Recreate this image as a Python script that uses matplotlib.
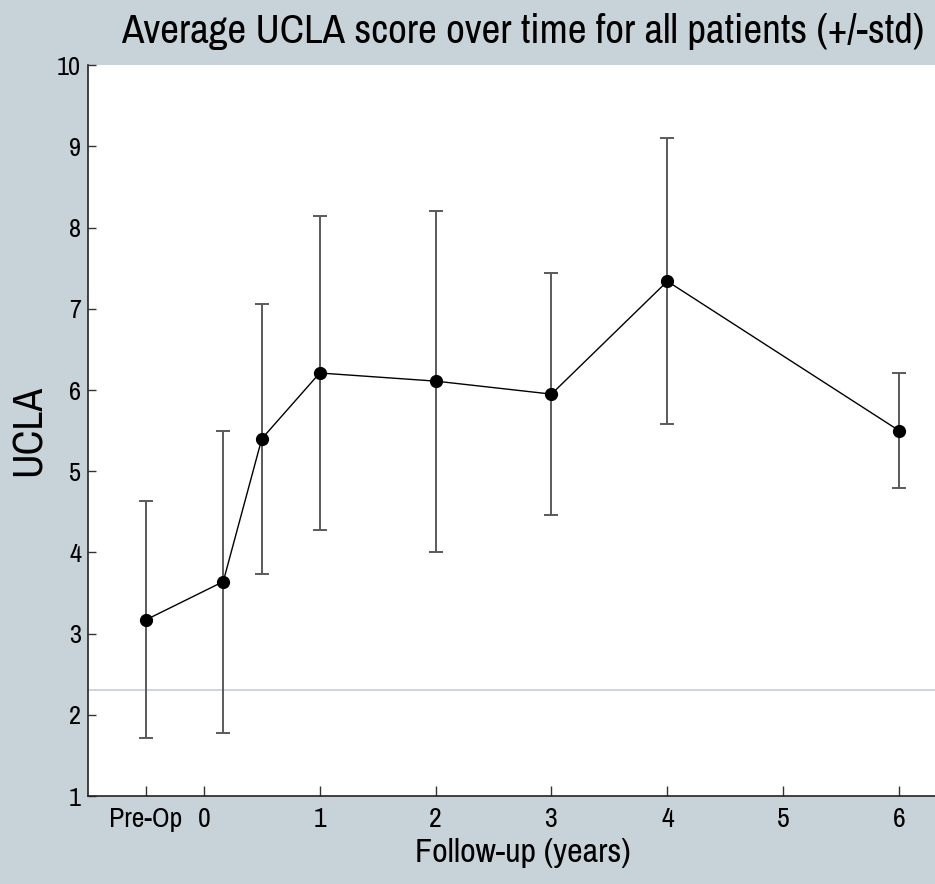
import matplotlib as mpl
import matplotlib.pyplot as plt
from matplotlib import font_manager

# data
follow_up = [-0.5, 0.167, 0.5, 1, 2, 3, 4, 6]
ucla_mean = [3.17, 3.64, 5.40, 6.21, 6.11, 5.95, 7.34, 5.50]
ucla_std = [1.46, 1.86, 1.66, 1.93, 2.10, 1.49, 1.76, 0.71]
tick_pos = [-0.5, 0, 1, 2, 3, 4, 5, 6]
tick_labels = ['Pre-Op', '0', '1', '2', '3', '4', '5', '6']
ref_level = 2.30

names = {f.name for f in font_manager.fontManager.ttflist}
family = [n for n in ['Archivo Narrow', 'Liberation Sans'] if n in names][:1]
mpl.rcParams.update({
    'font.family': family + ['DejaVu Sans'],
    'figure.dpi': 100,
})

bg = '#c7d2d9'
f = plt.figure(figsize=(9.35, 8.84), facecolor=bg)
# axes runs a little past the right edge of the figure, as in the original
ax = f.add_axes([88 / 935, 1 - 796 / 884, (957 - 88) / 935, (796 - 65.3) / 884])
ax.set_facecolor('white')

ax.axhline(ref_level, color='#c3ced6', lw=1.2, zorder=1)
ax.errorbar(follow_up, ucla_mean, yerr=ucla_std, fmt='none', ecolor='#5a5a5a',
            elinewidth=1.4, capsize=5.2, capthick=1.4, zorder=2)
ax.plot(follow_up, ucla_mean, '-', color='black', lw=1.0, zorder=3)
ax.plot(follow_up, ucla_mean, 'o', color='black', ms=8.5, zorder=4)

ax.set_xlim(-1, 6.5)
ax.set_ylim(1, 10)
ax.set_xticks(tick_pos)
ax.set_xticklabels(tick_labels)
ax.set_yticks(range(1, 11))
for s in ['top', 'right']:
    ax.spines[s].set_visible(False)
for s in ['left', 'bottom']:
    ax.spines[s].set_color('#222222')
    ax.spines[s].set_linewidth(1.2)
ax.tick_params(axis='x', direction='in', length=7, width=1, color='#333333',
               labelsize=20, pad=8)
ax.tick_params(axis='y', direction='in', length=6, width=1, color='#333333',
               labelsize=19, pad=5)
ax.set_xlabel('Follow-up (years)', fontsize=24.5, labelpad=4)
ax.set_ylabel('UCLA', fontsize=30, labelpad=7)
ax.set_title('Average UCLA score over time for all patients (+/-std)', fontsize=29.5, pad=16)

f.savefig('out.png', facecolor=bg)
